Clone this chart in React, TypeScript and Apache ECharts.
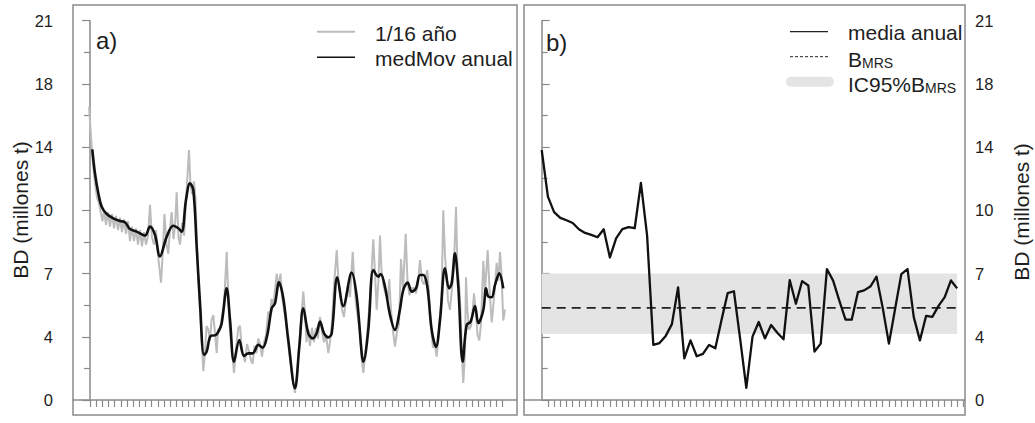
import React, { useEffect, useRef } from "react";
import * as echarts from "echarts";

// Y axis: ticks every 3.5 units, labels rounded
const yTickStep = 3.5;
const yTickLabels = ["0", "4", "7", "10", "14", "18", "21"];

// a) biomass at 1/16-year resolution: [year, value]
const seasonal: [number, number][] = [
  [-0.16, 16.24], [0.16, 14.6], [0.49, 13.0], [0.81, 12.0], [1.14, 11.2], [1.46, 10.9], [1.79, 10.3],
  [2.03, 9.9], [2.27, 10.5], [2.6, 9.7], [2.92, 10.4], [3.25, 9.6], [3.57, 10.3], [3.9, 9.5],
  [4.22, 10.2], [4.55, 9.4], [4.87, 10.1], [5.19, 9.3], [5.52, 10.0], [5.84, 9.2], [6.17, 9.9],
  [6.49, 8.8], [6.82, 9.6], [7.14, 8.8], [7.47, 9.5], [7.79, 8.6], [8.12, 9.4], [8.44, 8.5],
  [8.77, 9.3], [9.09, 8.6], [9.42, 9.1], [9.74, 10.8], [10.06, 9.0], [10.39, 8.6], [10.71, 9.4],
  [11.04, 8.0], [11.53, 6.5], [11.85, 8.4], [12.09, 10.3], [12.42, 8.6], [12.71, 8.1], [12.99, 9.5],
  [13.26, 10.4], [13.56, 8.9], [13.8, 9.6], [14.07, 11.5], [14.37, 9.0], [14.61, 8.6], [14.94, 9.8],
  [15.26, 9.1], [15.67, 11.5], [16.07, 13.84], [16.31, 11.9], [16.56, 11.4], [16.88, 12.1], [17.13, 11.2],
  [17.37, 8.5], [17.69, 6.0], [18.02, 4.0], [18.39, 1.6], [18.67, 2.6], [18.91, 4.1], [19.2, 3.9],
  [19.48, 3.3], [19.72, 4.4], [20.02, 4.7], [20.29, 3.7], [20.57, 2.6], [20.78, 3.9], [21.1, 3.9],
  [21.43, 4.6], [21.75, 5.2], [22.19, 8.2], [22.4, 6.2], [22.65, 4.1], [22.97, 3.0], [23.38, 1.5],
  [23.7, 2.8], [24.07, 4.0], [24.35, 4.1], [24.59, 3.0], [24.84, 2.6], [25.16, 2.1], [25.49, 3.1],
  [25.81, 2.7], [26.14, 2.2], [26.41, 2.0], [26.7, 3.0], [27.03, 2.6], [27.32, 3.4], [27.6, 3.1],
  [27.92, 2.4], [28.25, 3.2], [28.57, 3.6], [28.94, 4.9], [29.22, 4.6], [29.46, 5.6], [29.79, 5.3],
  [30.31, 7.0], [30.6, 6.3], [30.93, 7.0], [31.17, 5.7], [31.49, 5.0], [31.82, 4.3], [32.22, 3.0],
  [32.55, 2.1], [32.87, 1.2], [33.28, 0.4], [33.6, 1.4], [33.93, 2.9], [34.25, 4.4], [34.63, 6.0],
  [34.9, 4.8], [35.15, 3.2], [35.44, 3.9], [35.71, 3.0], [36.04, 4.0], [36.36, 3.2], [36.69, 4.0],
  [37.01, 3.4], [37.34, 4.6], [37.66, 3.8], [37.99, 3.2], [38.31, 3.6], [38.69, 2.6], [38.96, 3.2],
  [39.29, 4.3], [39.61, 6.3], [40.05, 8.3], [40.34, 6.6], [40.58, 5.9], [40.91, 5.0], [41.23, 4.6],
  [41.56, 5.6], [41.88, 6.4], [42.21, 5.7], [42.65, 8.2], [42.94, 6.4], [43.18, 5.3], [43.51, 4.5],
  [43.83, 3.8], [44.07, 2.4], [44.37, 1.5], [44.64, 2.4], [44.89, 3.2], [45.21, 4.6], [45.54, 6.0],
  [45.99, 8.9], [46.27, 7.0], [46.54, 5.0], [46.83, 6.6], [47.08, 9.1], [47.32, 7.2], [47.65, 6.3],
  [48.05, 5.8], [48.38, 5.6], [48.59, 6.7], [48.86, 5.0], [49.19, 3.8], [49.51, 2.95], [49.84, 3.8],
  [50.16, 4.2], [50.49, 7.8], [50.81, 6.1], [51.25, 9.2], [51.54, 6.6], [51.87, 5.8], [52.19, 6.2],
  [52.6, 6.2], [52.92, 5.9], [53.25, 6.5], [53.57, 7.75], [53.9, 6.6], [54.22, 6.4], [54.76, 7.2],
  [55.03, 5.9], [55.36, 4.0], [55.68, 2.9], [56.01, 3.0], [56.28, 2.4], [56.58, 3.5], [56.82, 4.7],
  [57.06, 5.5], [57.35, 10.5], [57.63, 8.0], [57.87, 6.9], [58.12, 5.5], [58.44, 5.0], [58.77, 6.2],
  [59.09, 7.5], [59.42, 10.7], [59.66, 7.2], [59.9, 6.5], [60.15, 5.0], [60.39, 2.4], [60.6, 0.95],
  [60.88, 2.6], [61.04, 6.8], [61.28, 4.9], [61.53, 3.9], [61.85, 4.1], [62.09, 4.8], [62.34, 5.9],
  [62.66, 4.8], [62.91, 3.6], [63.2, 3.3], [63.47, 4.2], [63.85, 7.7], [64.12, 6.0], [64.56, 8.3],
  [64.85, 6.2], [65.21, 4.3], [65.42, 5.0], [65.67, 6.0], [66.02, 7.6], [66.31, 6.6], [66.56, 8.2],
  [66.8, 7.0], [67.09, 4.4], [67.37, 5.0],
];

// a) annual moving mean: [year, value]
const movingMean: [number, number][] = [
  [0.37, 13.88], [0.81, 12.55], [1.35, 11.45], [1.9, 10.7], [2.71, 10.3], [3.78, 10.06], [4.87, 9.91],
  [5.68, 9.84], [6.49, 9.47], [7.58, 9.32], [8.93, 9.1], [9.74, 9.6], [10.55, 9.14], [11.36, 7.95],
  [12.45, 9.04], [13.52, 9.65], [14.33, 9.51], [14.89, 9.32], [15.58, 11.07], [16.23, 12.0], [16.77, 11.63],
  [17.32, 8.49], [17.86, 5.35], [18.51, 2.49], [18.94, 2.68], [19.59, 3.54], [20.45, 3.6], [20.99, 3.88],
  [21.38, 4.25], [22.19, 6.18], [22.73, 4.43], [23.38, 2.12], [24.24, 3.32], [25.0, 2.44], [25.7, 2.58],
  [26.41, 2.58], [27.32, 3.05], [28.04, 2.9], [28.78, 3.6], [29.5, 5.08], [30.03, 5.35], [30.68, 6.52],
  [31.38, 5.63], [32.19, 3.32], [33.28, 0.65], [33.98, 2.95], [34.63, 5.08], [35.44, 3.69], [36.15, 3.41],
  [36.8, 3.69], [37.34, 4.34], [37.99, 3.69], [38.69, 3.47], [39.24, 3.69], [40.15, 6.79], [41.12, 5.2],
  [42.48, 7.05], [43.3, 5.72], [44.11, 2.58], [44.37, 2.12], [45.18, 3.88], [46.0, 7.2], [46.8, 6.83],
  [47.19, 6.98], [47.89, 6.27], [48.7, 4.71], [49.51, 3.88], [50.21, 4.8], [50.86, 6.09], [51.57, 6.5],
  [52.22, 6.0], [52.92, 6.18], [53.57, 6.92], [54.11, 6.92], [54.76, 6.27], [55.47, 3.88], [56.17, 2.95],
  [56.82, 4.43], [57.63, 7.29], [58.28, 6.18], [58.72, 6.46], [59.25, 8.12], [59.79, 6.27], [60.5, 2.12],
  [61.15, 4.15], [61.8, 4.34], [62.5, 5.2], [63.04, 4.25], [63.85, 4.98], [64.29, 6.18], [64.66, 5.72],
  [65.21, 5.69], [65.75, 6.37], [66.44, 7.01], [67.09, 6.18],
];

// b) annual means, one per year
const annualMeans = [
  13.84, 11.26, 10.4, 10.08, 9.95, 9.8, 9.45, 9.25, 9.14, 9.01,
  9.45, 7.89, 8.95, 9.46, 9.57, 9.51, 12.02, 9.1, 3.05, 3.15,
  3.55, 4.2, 6.24, 2.31, 3.3, 2.42, 2.55, 3.05, 2.86, 4.43,
  5.92, 6.02, 3.4, 0.67, 3.51, 4.32, 3.41, 4.15, 3.72, 3.36,
  6.64, 5.33, 6.58, 6.34, 2.68, 3.12, 7.25, 6.61, 5.5, 4.45,
  4.45, 5.97, 6.07, 6.28, 6.83, 5.1, 3.12, 5.05, 6.97, 7.25,
  4.6, 3.3, 4.66, 4.6, 5.21, 5.7, 6.62, 6.18,
];

// b) reference biomass and its 95% interval
const bMRS = 5.1;
const ic95Low = 3.66;
const ic95High = 7.0;

const FONT = "Liberation Sans, Arial, sans-serif";
const FRAME = "#8a8a8a";
const TEXT = "#1e1e1e";

export default function App() {
  const ref = useRef<HTMLDivElement>(null);

  useEffect(() => {
    if (!ref.current) return;
    const chart = echarts.init(ref.current, null, { renderer: "svg" });

    const lastYear = annualMeans.length - 1;
    const leftTicks = annualMeans.map((_, i) => i);
    const rightTicks = annualMeans.map((_, i) => i + 1);

    const yLabel = (v: number) => yTickLabels[Math.round(v / yTickStep)] ?? "";

    const yAxisBase = {
      type: "value" as const,
      min: 0,
      max: 21,
      interval: yTickStep,
      splitLine: { show: false },
      axisLine: { show: true, lineStyle: { color: FRAME, width: 1.5 } },
      axisTick: { show: true, inside: false, length: 8, lineStyle: { color: FRAME, width: 1.2 } },
      minorTick: { show: true, splitNumber: 2, length: 6, lineStyle: { color: FRAME, width: 1.2 } },
      axisLabel: { formatter: yLabel, fontSize: 16.5, color: TEXT, fontFamily: FONT },
    };

    const xAxisBase = {
      type: "value" as const,
      position: "bottom" as const,
      offset: 15,
      splitLine: { show: false },
      axisLabel: { show: false },
      axisLine: { show: true, lineStyle: { color: FRAME, width: 1.5 } },
    };

    const legendText = (x: number, y: number, text: string) => ({
      type: "text",
      x,
      y,
      style: {
        text,
        fontSize: 21,
        fontFamily: FONT,
        fill: TEXT,
        align: "left",
        verticalAlign: "middle",
        rich: {
          b: { fontSize: 21, fontFamily: FONT, fill: TEXT, lineHeight: 28, verticalAlign: "bottom" },
          s: { fontSize: 14, fontFamily: FONT, fill: TEXT, lineHeight: 14, verticalAlign: "bottom" },
        },
      },
    });

    const axisTitle = (x: number, y: number) => ({
      type: "text",
      x,
      y,
      rotation: Math.PI / 2,
      style: {
        text: "BD (millones t)",
        fontSize: 21,
        fontFamily: FONT,
        fill: TEXT,
        align: "center",
        verticalAlign: "middle",
      },
    });

    chart.setOption({
      animation: false,
      backgroundColor: "#ffffff",
      grid: [
        { left: 73, right: 1035 - 517, top: 20.7, bottom: 23, containLabel: false },
        { left: 524, right: 1035 - 965, top: 20.7, bottom: 23, containLabel: false },
      ],
      xAxis: [
        {
          ...xAxisBase,
          gridIndex: 0,
          min: -2.76,
          max: 69.32,
          axisTick: {
            show: true,
            length: 7,
            customValues: leftTicks,
            lineStyle: { color: FRAME, width: 1.2 },
          },
        },
        {
          ...xAxisBase,
          gridIndex: 1,
          min: -2.855,
          max: 68.27,
          axisTick: {
            show: true,
            length: 7,
            customValues: rightTicks,
            lineStyle: { color: FRAME, width: 1.2 },
          },
        },
      ],
      yAxis: [
        { ...yAxisBase, gridIndex: 0, position: "left", axisLabel: { ...yAxisBase.axisLabel, margin: 20 } },
        { ...yAxisBase, gridIndex: 1, position: "right", axisLabel: { ...yAxisBase.axisLabel, margin: 10 } },
      ],
      series: [
        {
          name: "1/16 año",
          type: "line",
          xAxisIndex: 0,
          yAxisIndex: 0,
          data: seasonal,
          showSymbol: false,
          clip: false,
          lineStyle: { color: "#bcbcbc", width: 2 },
          z: 2,
        },
        {
          name: "medMov anual",
          type: "line",
          xAxisIndex: 0,
          yAxisIndex: 0,
          data: movingMean,
          smooth: 0.35,
          showSymbol: false,
          clip: false,
          lineStyle: { color: "#111111", width: 2.6 },
          z: 3,
        },
        {
          name: "IC95%BMRS",
          type: "line",
          xAxisIndex: 1,
          yAxisIndex: 1,
          data: [],
          markArea: {
            silent: true,
            itemStyle: { color: "#e4e4e4" },
            data: [[{ xAxis: 0, yAxis: ic95Low }, { xAxis: lastYear, yAxis: ic95High }]],
          },
          z: 1,
        },
        {
          name: "BMRS",
          type: "line",
          xAxisIndex: 1,
          yAxisIndex: 1,
          data: [
            [0, bMRS],
            [lastYear, bMRS],
          ],
          showSymbol: false,
          lineStyle: { color: "#222222", width: 1.8, type: [9, 6] },
          z: 2,
        },
        {
          name: "media anual",
          type: "line",
          xAxisIndex: 1,
          yAxisIndex: 1,
          data: annualMeans.map((v, i) => [i, v]),
          showSymbol: false,
          clip: false,
          lineStyle: { color: "#111111", width: 2.3, join: "round" },
          z: 3,
        },
      ],
      graphic: [
        // panel frames
        {
          type: "rect",
          shape: { x: 73, y: 5, width: 444, height: 410 },
          style: { fill: "none", stroke: FRAME, lineWidth: 1.5 },
          silent: true,
          z: 10,
        },
        {
          type: "rect",
          shape: { x: 524, y: 5, width: 441, height: 410 },
          style: { fill: "none", stroke: FRAME, lineWidth: 1.5 },
          silent: true,
          z: 10,
        },
        // axis titles
        axisTitle(20, 210),
        axisTitle(1021, 212),
        // panel tags
        {
          type: "text",
          x: 96,
          y: 40,
          style: { text: "a)", fontSize: 24, fontFamily: FONT, fill: TEXT, align: "left", verticalAlign: "middle" },
        },
        {
          type: "text",
          x: 546,
          y: 42,
          style: { text: "b)", fontSize: 24, fontFamily: FONT, fill: TEXT, align: "left", verticalAlign: "middle" },
        },
        // legend, panel a
        {
          type: "line",
          shape: { x1: 317, y1: 31.7, x2: 355, y2: 31.7 },
          style: { stroke: "#bcbcbc", lineWidth: 2 },
        },
        {
          type: "line",
          shape: { x1: 317, y1: 57.3, x2: 355, y2: 57.3 },
          style: { stroke: "#111111", lineWidth: 1.6 },
        },
        legendText(375, 33, "1/16 año"),
        legendText(375, 58, "medMov anual"),
        // legend, panel b
        {
          type: "line",
          shape: { x1: 790, y1: 31.7, x2: 828, y2: 31.7 },
          style: { stroke: "#222222", lineWidth: 1.2 },
        },
        {
          type: "line",
          shape: { x1: 790, y1: 56.7, x2: 828, y2: 56.7 },
          style: { stroke: "#222222", lineWidth: 1, lineDash: [3, 2] },
        },
        {
          type: "line",
          shape: { x1: 791, y1: 81.7, x2: 829, y2: 81.7 },
          style: { stroke: "#e4e4e4", lineWidth: 10, lineCap: "round" },
        },
        legendText(848, 32, "media anual"),
        legendText(848, 56, "{b|B}{s|MRS}"),
        legendText(848, 81, "{b|IC95%B}{s|MRS}"),
      ],
    });

    return () => chart.dispose();
  }, []);

  return (
    <div
      ref={ref}
      style={{ position: "absolute", left: 0, top: 0, width: 1035, height: 423, background: "#fff" }}
    />
  );
}
